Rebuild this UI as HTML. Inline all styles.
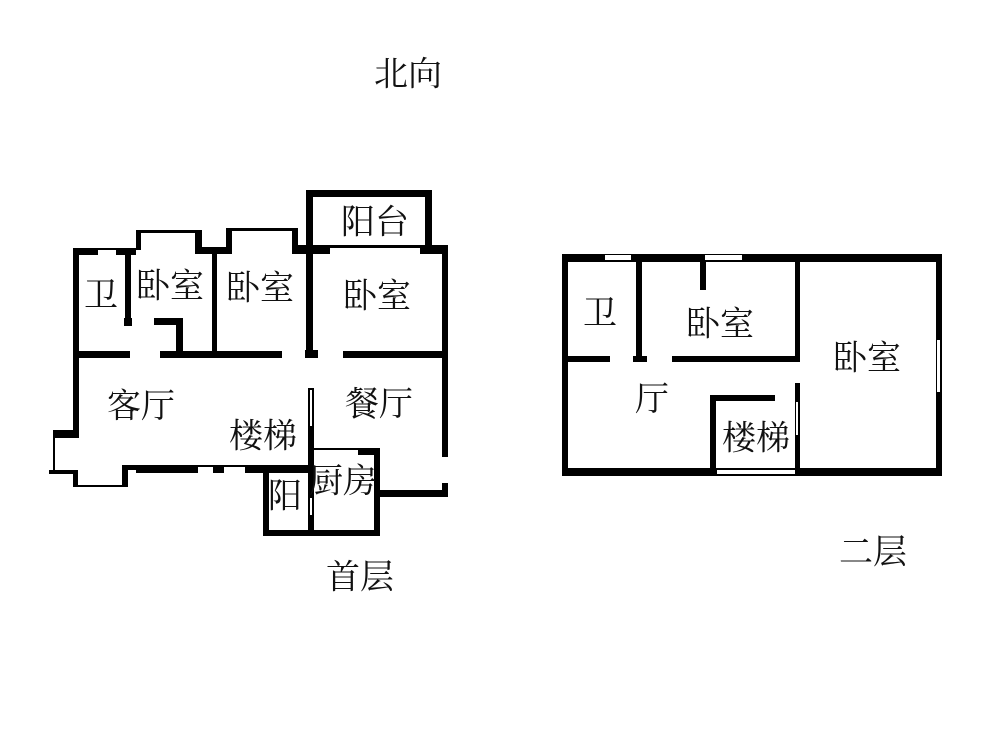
<!DOCTYPE html>
<html><head><meta charset="utf-8"><style>
html,body{margin:0;padding:0;background:#fff;}
svg text{font-family:"Liberation Serif","Noto Serif CJK SC",serif;fill:#111;text-anchor:middle;dominant-baseline:central;}
</style></head><body>
<svg width="1000" height="750" viewBox="0 0 1000 750" xmlns="http://www.w3.org/2000/svg">
<rect width="1000" height="750" fill="#fff"/>
<g fill="#000">
<rect x="306" y="190" width="126" height="7"/>
<rect x="306" y="190" width="7" height="64"/>
<rect x="425" y="190" width="7" height="58"/>
<rect x="306" y="245" width="24" height="9"/>
<rect x="420" y="245" width="28" height="9"/>
<rect x="330" y="245" width="90" height="3"/>
<rect x="442" y="245" width="6" height="212"/>
<rect x="442" y="483" width="6" height="14"/>
<rect x="378" y="490" width="70" height="7"/>
<rect x="226" y="228" width="6" height="26"/>
<rect x="292" y="228" width="6" height="26"/>
<rect x="232" y="228" width="60" height="3"/>
<rect x="292" y="245" width="14" height="9"/>
<rect x="136" y="230" width="5" height="20"/>
<rect x="141" y="230" width="55" height="3"/>
<rect x="195" y="230" width="7" height="24"/>
<rect x="202" y="247" width="24" height="7"/>
<rect x="73" y="248" width="25" height="7"/>
<rect x="116" y="248" width="20" height="7"/>
<rect x="98" y="248" width="18" height="2"/>
<rect x="73" y="248" width="6" height="190"/>
<rect x="125" y="250" width="6" height="72"/>
<rect x="124" y="318" width="8" height="8"/>
<rect x="73" y="351" width="57" height="7"/>
<rect x="160" y="351" width="122" height="7"/>
<rect x="305" y="350" width="13" height="8"/>
<rect x="343" y="351" width="105" height="7"/>
<rect x="154" y="318" width="29" height="7"/>
<rect x="176" y="318" width="7" height="38"/>
<rect x="212" y="254" width="5" height="100"/>
<rect x="306" y="245" width="7" height="110"/>
<rect x="53" y="430" width="26" height="8"/>
<rect x="53" y="437" width="2" height="33"/>
<rect x="49" y="470" width="26" height="4"/>
<rect x="73" y="470" width="5" height="17"/>
<rect x="78" y="485" width="44" height="2"/>
<rect x="122" y="466" width="6" height="21"/>
<rect x="122" y="465" width="14" height="5"/>
<rect x="136" y="465" width="62" height="8"/>
<rect x="213" y="465" width="11" height="8"/>
<rect x="245" y="465" width="67" height="8"/>
<rect x="198" y="465" width="15" height="2"/>
<rect x="224" y="465" width="21" height="2"/>
<rect x="308" y="388" width="6" height="148"/>
<rect x="313" y="448" width="45" height="2"/>
<rect x="358" y="448" width="22" height="7"/>
<rect x="374" y="448" width="6" height="88"/>
<rect x="263" y="468" width="6" height="68"/>
<rect x="263" y="530" width="117" height="6"/>

<rect x="562" y="254" width="380" height="8"/>
<rect x="562" y="254" width="6" height="222"/>
<rect x="936" y="254" width="6" height="222"/>
<rect x="562" y="468" width="380" height="8"/>
<rect x="636" y="258" width="6" height="102"/>
<rect x="565" y="356" width="45" height="6"/>
<rect x="633" y="356" width="14" height="6"/>
<rect x="672" y="356" width="128" height="6"/>
<rect x="700" y="258" width="6" height="32"/>
<rect x="795" y="258" width="5" height="104"/>
<rect x="795" y="383" width="5" height="90"/>
<rect x="710" y="395" width="6" height="78"/>
<rect x="710" y="395" width="65" height="6"/>
</g>
<g fill="#fff">
<rect x="605" y="255" width="26" height="5"/>
<rect x="705" y="255" width="37" height="5"/>
<rect x="937" y="340" width="3" height="52"/>
<rect x="796" y="402" width="2" height="33"/>
<rect x="717" y="470" width="78" height="4"/>
<rect x="310" y="390" width="2" height="36"/>
<rect x="310" y="498" width="2" height="17"/>
</g>
<g font-size="34">
<text x="408" y="75">北向</text>
<text x="375" y="223">阳台</text>
<text x="101" y="296">卫</text>
<text x="170" y="287">卧室</text>
<text x="260" y="289">卧室</text>
<text x="377" y="297">卧室</text>
<text x="141" y="407">客厅</text>
<text x="263" y="437">楼梯</text>
<text x="379" y="405">餐厅</text>
<text x="285" y="497">阳</text>
<text x="343" y="482">厨房</text>
<text x="360" y="578">首层</text>
<text x="600" y="314">卫</text>
<text x="720" y="325">卧室</text>
<text x="867" y="359">卧室</text>
<text x="652" y="400">厅</text>
<text x="756" y="439">楼梯</text>
<text x="873" y="553">二层</text>
</g>
</svg>
</body></html>
